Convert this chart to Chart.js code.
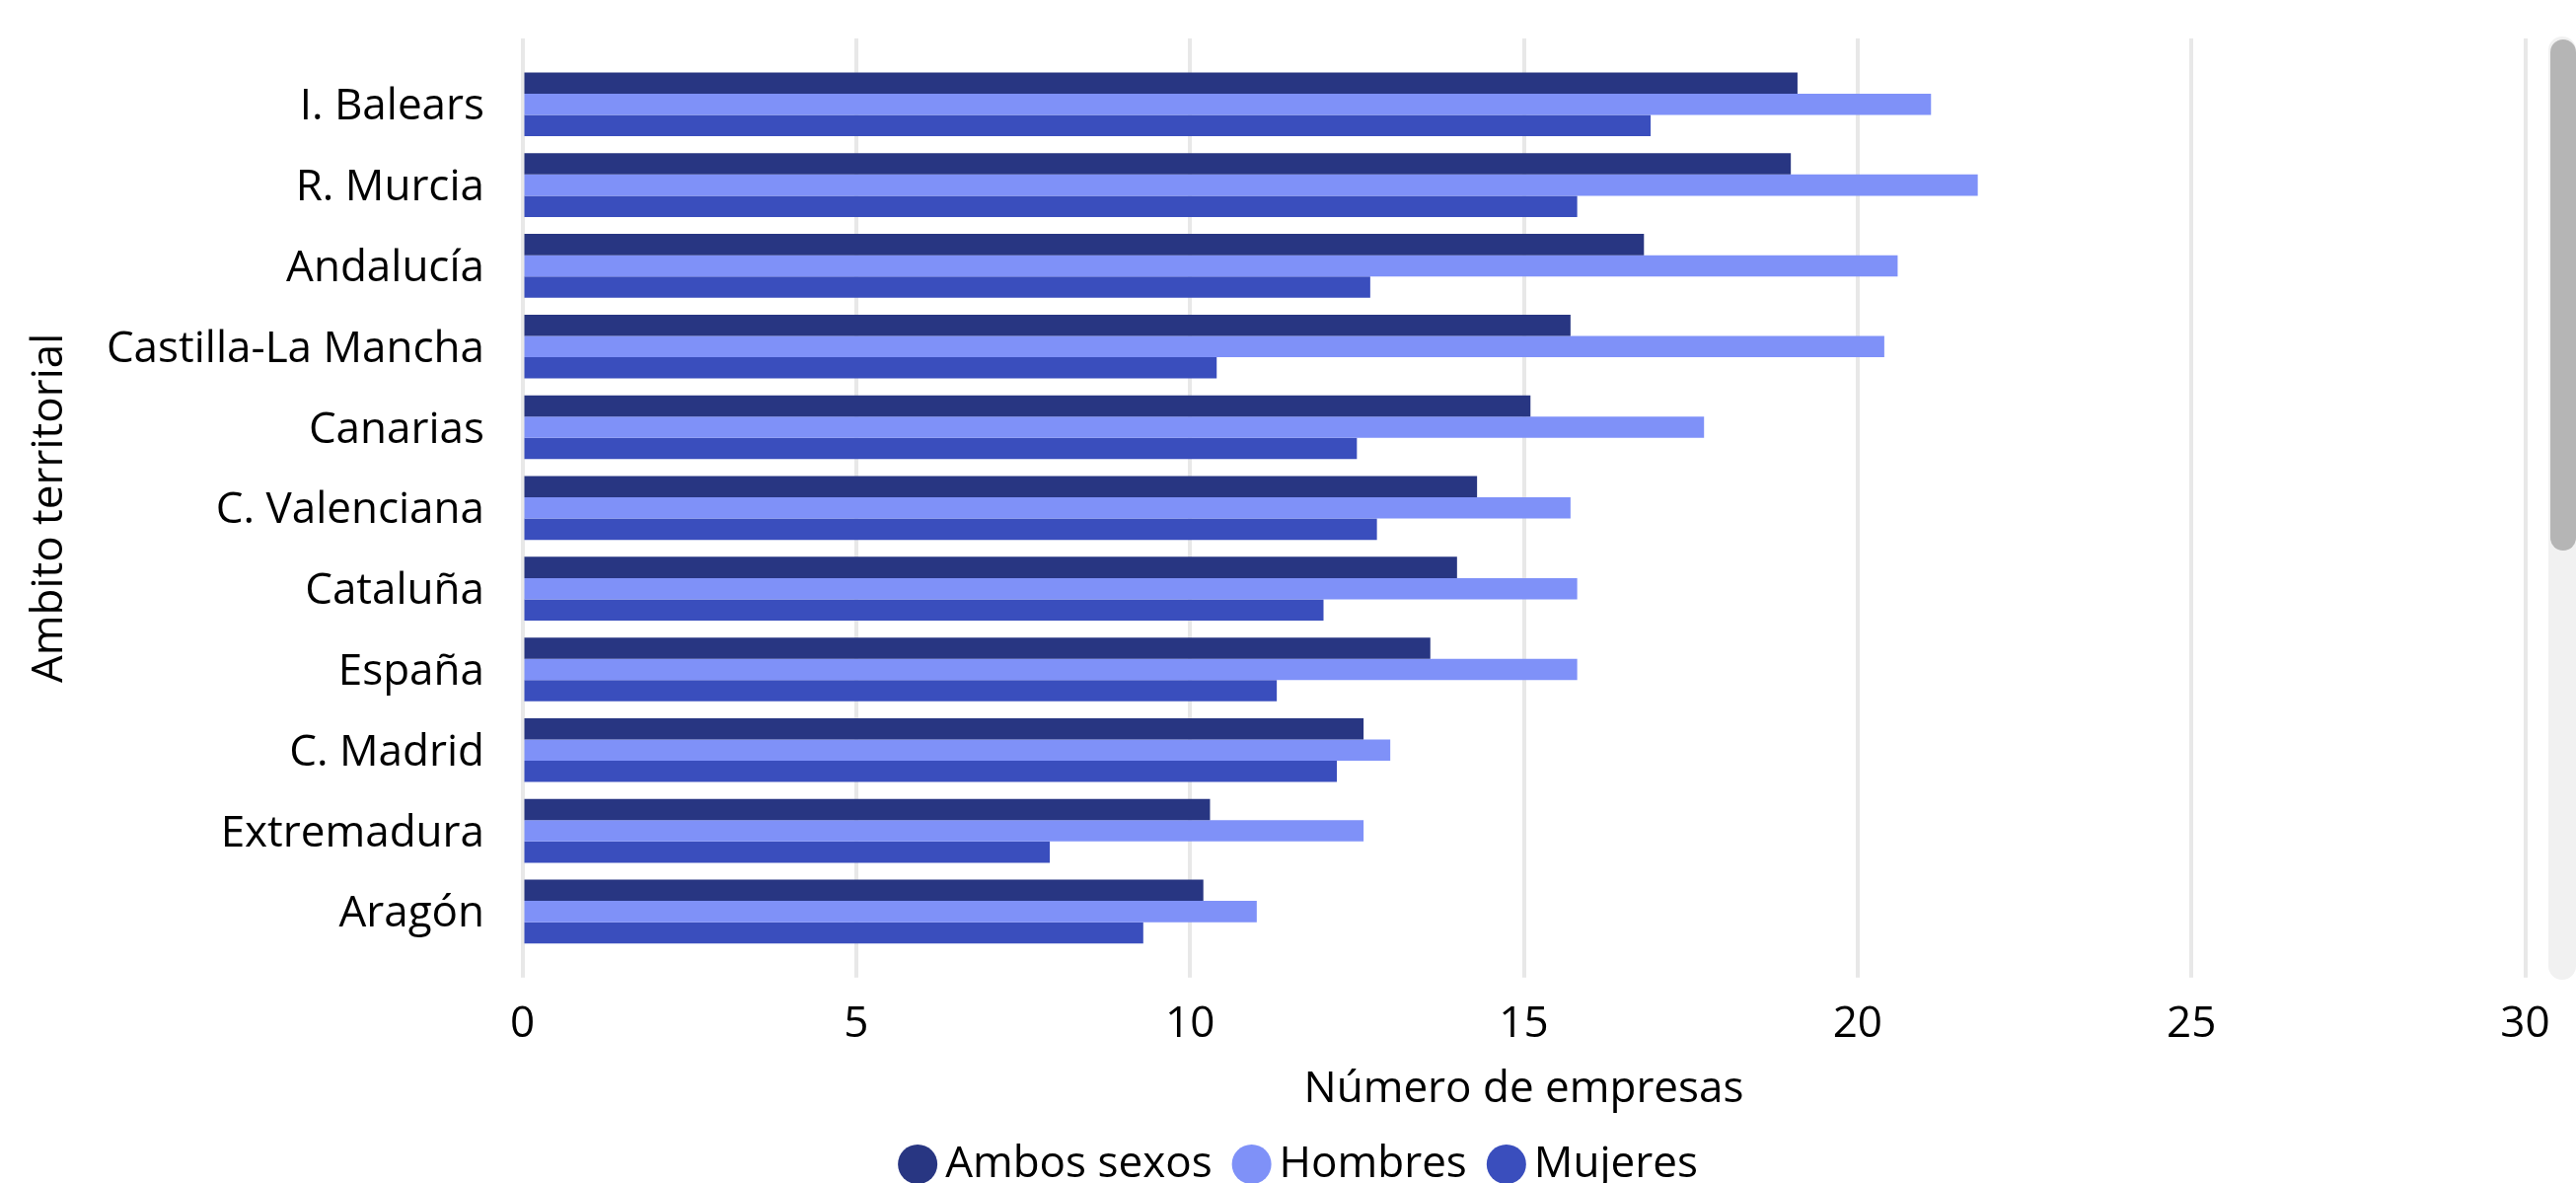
<!DOCTYPE html>
<html>
<head>
<meta charset="utf-8">
<script src="https://cdn.jsdelivr.net/npm/chart.js@4.4.1/dist/chart.umd.min.js"></script>
<style>
html,body{margin:0;padding:0;overflow:hidden;background:#fff}
#wrap{position:absolute;left:0;top:0}
#track{position:absolute;left:2583px;top:37px;width:28px;height:956px;background:#f1f1f1;border-radius:14px}
#thumb{position:absolute;left:2585px;top:40px;width:26px;height:518px;background:#b5b5b5;border-radius:13px}
</style>
</head>
<body>
<div id="wrap"><canvas id="chart" width="2645" height="1212"></canvas></div>
<div id="track"></div>
<div id="thumb"></div>
<script>
// data
let labels=["I. Balears","R. Murcia","Andalucía","Castilla-La Mancha","Canarias","C. Valenciana","Cataluña","España","C. Madrid","Extremadura","Aragón"]
let ambos=[19.1,19.0,16.8,15.7,15.1,14.3,14.0,13.6,12.6,10.3,10.2]
let hombres=[21.1,21.8,20.6,20.4,17.7,15.7,15.8,15.8,13.0,12.6,11.0]
let mujeres=[16.9,15.8,12.7,10.4,12.5,12.8,12.0,11.3,12.2,7.9,9.3]
let seriesNames=["Ambos sexos","Hombres","Mujeres"]
let xTicks=[0,5,10,15,20,25,30]

let colors=["#283682","#7f91f8","#3a4ebd"]
let font="'Open Sans', sans-serif"
let gridColor="#e8e8e8"

Chart.defaults.font.family=font
Chart.defaults.color="#000"

let chart=new Chart(document.getElementById("chart"),{
type:"bar",
data:{
labels:labels,
datasets:[ambos,hombres,mujeres].map((d,i)=>({
label:seriesNames[i],
data:d,
backgroundColor:colors[i],
borderWidth:0,
categoryPercentage:0.79,
barPercentage:1
}))
},
options:{
indexAxis:"y",
responsive:false,
animation:false,
devicePixelRatio:1,
layout:{padding:{top:35,left:0,right:0,bottom:0}},
plugins:{
tooltip:{enabled:false},
legend:{
position:"bottom",
labels:{
usePointStyle:true,
pointStyle:"circle",
boxWidth:12,
boxHeight:28.3,
padding:34,
color:"#000",
font:{size:44,family:font}
}
}
},
scales:{
x:{
type:"linear",
min:0,max:30,
afterBuildTicks:s=>{s.ticks=xTicks.map(v=>({value:v}))},
grid:{color:gridColor,lineWidth:4,tickLength:26,drawTicks:true},
border:{display:false},
ticks:{padding:28,font:{size:44,lineHeight:0.9},color:"#000"},
title:{display:true,text:"Número de empresas",font:{size:44,lineHeight:0.9},color:"#000",padding:{top:-2,bottom:0}}
},
x2:{
type:"linear",
position:"top",
min:0,max:30,
afterBuildTicks:s=>{s.ticks=xTicks.map(v=>({value:v}))},
grid:{color:gridColor,lineWidth:4,tickLength:26,drawOnChartArea:false},
border:{display:false},
ticks:{display:false}
},
y:{
grid:{display:false,drawTicks:false},
border:{display:false},
ticks:{padding:38.5,labelOffset:3,font:{size:44},color:"#000"},
title:{display:true,text:"Ambito territorial",font:{size:44},color:"#000",padding:{top:24,bottom:4}},
afterFit:s=>{s.width=529.5}
},
yr:{
type:"category",
position:"right",
grid:{display:false,drawTicks:false},
border:{display:false},
ticks:{display:false},
afterFit:s=>{s.width=85.5}
}
}
}
})
</script>
</body>
</html>
